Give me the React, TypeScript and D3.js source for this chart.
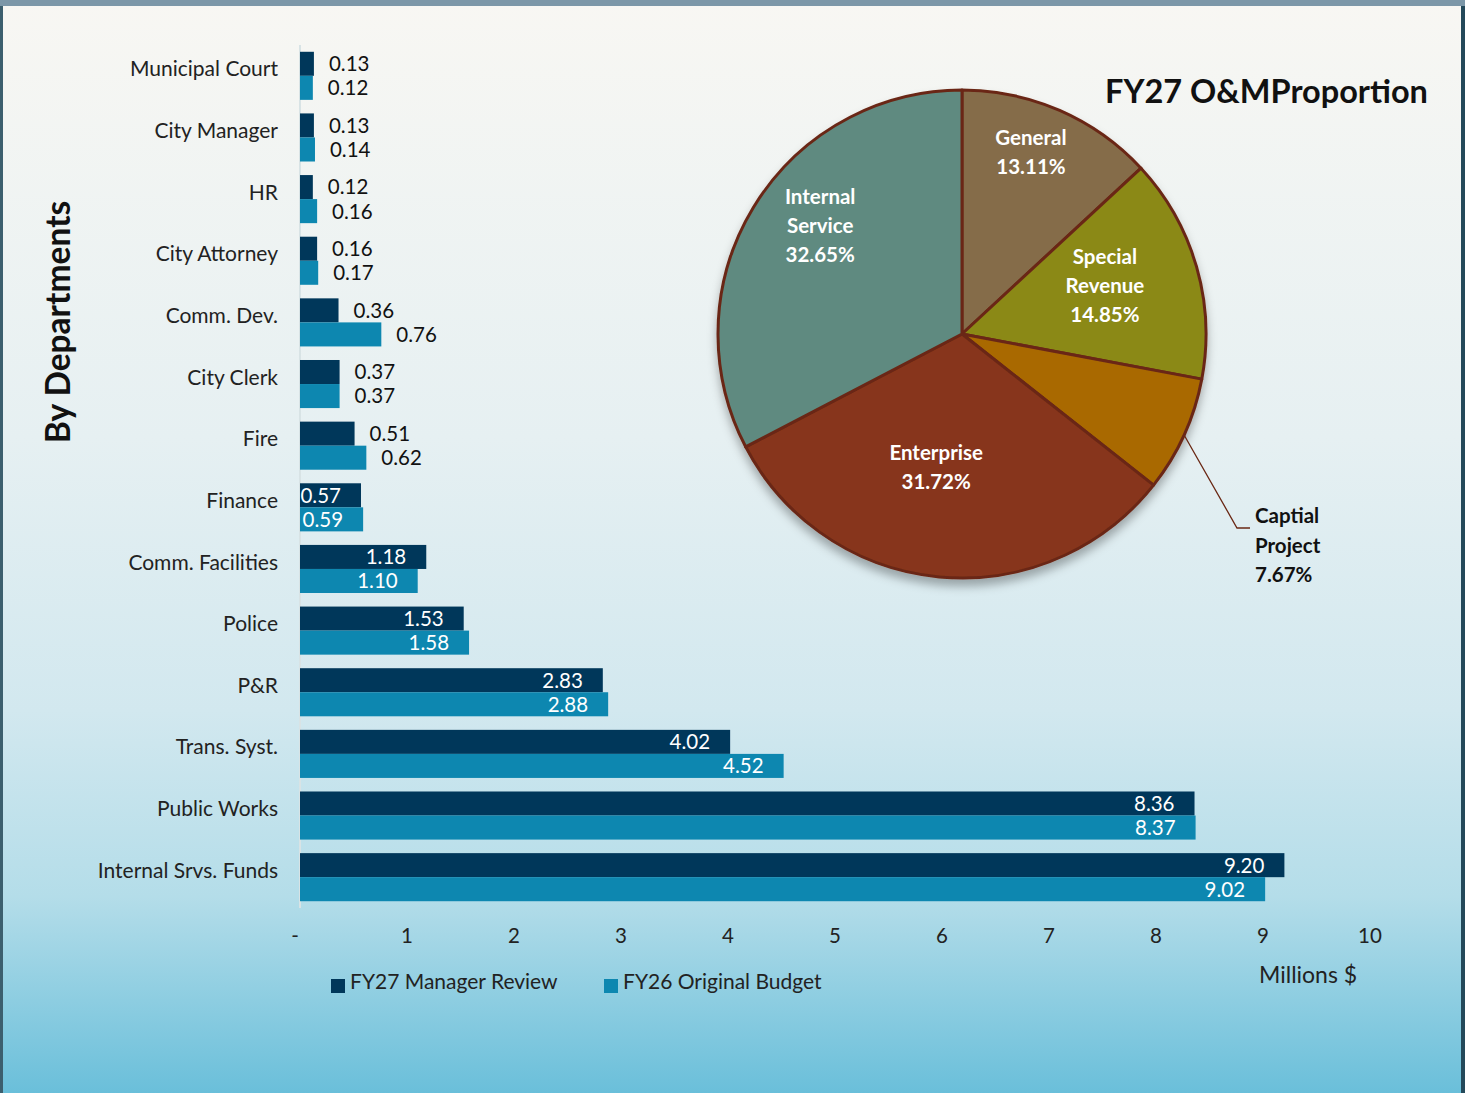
import React from "react";
import * as d3 from "d3";

const categories = [
  "Municipal Court", "City Manager", "HR", "City Attorney", "Comm. Dev.", "City Clerk", "Fire",
  "Finance", "Comm. Facilities", "Police", "P&R", "Trans. Syst.", "Public Works", "Internal Srvs. Funds",
];
const fy27 = [0.13, 0.13, 0.12, 0.16, 0.36, 0.37, 0.51, 0.57, 1.18, 1.53, 2.83, 4.02, 8.36, 9.2];
const fy26 = [0.12, 0.14, 0.16, 0.17, 0.76, 0.37, 0.62, 0.59, 1.1, 1.58, 2.88, 4.52, 8.37, 9.02];
const seriesNames = ["FY27 Manager Review", "FY26 Original Budget"];
const xTicks = [0, 1, 2, 3, 4, 5, 6, 7, 8, 9, 10];
const insideLabelsFrom = "Finance";

const pieLabels = ["General", "Special Revenue", "Captial Project", "Enterprise", "Internal Service"];
const piePct = [13.11, 14.85, 7.67, 31.72, 32.65];

const FONT = "Lato, 'Open Sans', sans-serif";
const DARK = "#00375a";
const LIGHT = "#0d87b0";
const pieColors = ["#856c4a", "#8b8914", "#a96904", "#87361b", "#5e8a80"];
// label placement inside slices: [radius fraction, angle offset in degrees]
const labelPlace: Record<string, [number, number]> = {
  General: [0.796, -2.8],
  "Special Revenue": [0.618, -2.5],
  Enterprise: [0.557, 5.6],
  "Internal Service": [0.731, 6.1],
};

export default function App() {
  const W = 1465, H = 1093;
  const x = d3.scaleLinear().domain([0, 10]).range([300, 1370]);
  const y = d3.scaleBand<string>().domain(categories).range([45, 908]).paddingInner(0.22).paddingOuter(0.11);
  const bw = y.bandwidth() / 2;
  const insideIdx = categories.indexOf(insideLabelsFrom);

  const cx = 962, cy = 334, R = 244;
  const pie = d3.pie<number>().sort(null).value((d) => d)(piePct);
  const arc = d3.arc<d3.PieArcDatum<number>>().innerRadius(0).outerRadius(R);

  const fmt = d3.format(".2f");

  const barGroups = categories.map((c, i) => {
    const y0 = y(c)!;
    const vals = [fy27[i], fy26[i]];
    return (
      <g key={c}>
        {vals.map((v, s) => {
          const yy = y0 + s * bw;
          const xe = x(v);
          const inside = i >= insideIdx;
          return (
            <g key={s}>
              <rect x={x(0)} y={yy} width={xe - x(0)} height={bw} fill={s === 0 ? DARK : LIGHT} />
              <text
                x={inside ? xe - 20 : xe + 15}
                y={yy + bw / 2}
                dy="0.36em"
                textAnchor={inside ? "end" : "start"}
                fill={inside ? "#ffffff" : "#111"}
                fontSize={20.5}
                fontFamily={FONT}
              >
                {fmt(v)}
              </text>
            </g>
          );
        })}
        <text
          x={278}
          y={y0 + y.bandwidth() / 2 - 7}
          dy="0.36em"
          textAnchor="end"
          fill="#222"
          fontSize={21}
          fontFamily={FONT}
        >
          {c}
        </text>
      </g>
    );
  });

  const cap = pie[2];
  const capMid = (cap.startAngle + cap.endAngle) / 2;
  const p0 = [cx + R * Math.sin(capMid), cy - R * Math.cos(capMid)];

  return (
    <svg width={W} height={H} style={{ position: "absolute", left: 0, top: 0, display: "block" }}>
      <defs>
        <linearGradient id="bg" x1="0" y1="0" x2="0" y2="1">
          <stop offset="0" stopColor="#f8f7f3" />
          <stop offset="0.4" stopColor="#e6f0f2" />
          <stop offset="0.65" stopColor="#d2e8ef" />
          <stop offset="0.82" stopColor="#b4dde9" />
          <stop offset="1" stopColor="#6abfda" />
        </linearGradient>
        <filter id="shadow" x="-20%" y="-20%" width="140%" height="140%">
          <feDropShadow dx="0" dy="7" stdDeviation="5" floodColor="#000" floodOpacity="0.3" />
        </filter>
      </defs>
      <rect x={0} y={0} width={W} height={H} fill="url(#bg)" />
      <rect x={0} y={0} width={W} height={6} fill="#7c97a8" />
      <rect x={0} y={6} width={3} height={H - 6} fill="#3c5f6e" />
      <rect x={W - 4} y={6} width={4} height={H - 6} fill="#24495a" />

      <line x1={x(0)} x2={x(0)} y1={45} y2={908} stroke="#d8e3e5" strokeWidth={2} />
      {barGroups}

      {xTicks.map((t) => (
        <text
          key={t}
          x={t === 0 ? x(t) - 5 : x(t)}
          y={936}
          dy="0.36em"
          textAnchor="middle"
          fill="#222"
          fontSize={20.5}
          fontFamily={FONT}
        >
          {t === 0 ? "-" : t}
        </text>
      ))}

      <text x={1259} y={975} dy="0.36em" fill="#222" fontSize={23} fontFamily={FONT}>
        Millions $
      </text>

      {seriesNames.map((n, i) => {
        const lx = i === 0 ? 331 : 604;
        return (
          <g key={n}>
            <rect x={lx} y={979} width={14} height={14} fill={i === 0 ? DARK : LIGHT} />
            <text x={lx + 19} y={981} dy="0.36em" fill="#222" fontSize={21} fontFamily={FONT}>
              {n}
            </text>
          </g>
        );
      })}

      <text
        transform={`translate(58,322) rotate(-90)`}
        textAnchor="middle"
        dy="0.36em"
        fill="#111"
        fontSize={33.5}
        fontWeight="bold"
        fontFamily={FONT}
      >
        By Departments
      </text>

      <g transform={`translate(${cx},${cy})`}>
        <g filter="url(#shadow)">
          {pie.map((d, i) => (
            <path key={i} d={arc(d)!} fill={pieColors[i]} stroke="#6a2814" strokeWidth={3} strokeLinejoin="round" />
          ))}
        </g>
        {pie.map((d, i) => {
          const name = pieLabels[i];
          if (!(name in labelPlace)) return null;
          const [rf, da] = labelPlace[name];
          const a = (d.startAngle + d.endAngle) / 2 + (da * Math.PI) / 180;
          const r = R * rf;
          const lx = r * Math.sin(a), ly = -r * Math.cos(a);
          const words = name.split(" ");
          const lines = [...words, `${fmt(piePct[i])}%`];
          const lh = 29;
          return (
            <text key={name} textAnchor="middle" fill="#fff" fontSize={20.5} fontWeight="bold" fontFamily={FONT}>
              {lines.map((l, k) => (
                <tspan key={k} x={lx} y={ly + (k - (lines.length - 1) / 2) * lh} dy="0.36em">
                  {l}
                </tspan>
              ))}
            </text>
          );
        })}
      </g>
      <polyline
        points={`${p0[0]},${p0[1]} 1237,528 1250,528`}
        fill="none"
        stroke="#6a2814"
        strokeWidth={1.3}
      />
      <text fill="#111" fontSize={20.5} fontWeight="bold" fontFamily={FONT}>
        {[...pieLabels[2].split(" "), `${fmt(piePct[2])}%`].map((l, k) => (
          <tspan key={k} x={1255} y={516 + k * 29.5} dy="0.36em">
            {l}
          </tspan>
        ))}
      </text>

      <text x={1105} y={91} dy="0.36em" fill="#111" fontSize={32.5} fontWeight="bold" fontFamily={FONT}>
        FY27 O&amp;MProportion
      </text>
    </svg>
  );
}
